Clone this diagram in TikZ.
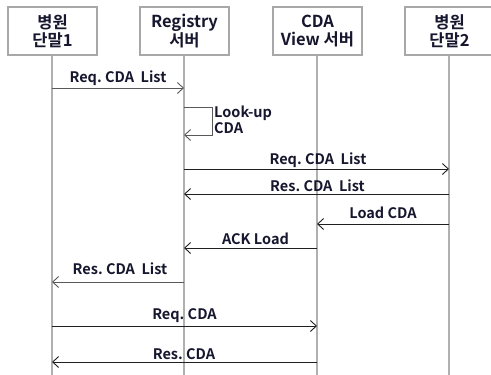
\documentclass[tikz,border=0pt]{standalone}
\usepackage{fontspec}
\setmainfont{Noto Sans CJK KR}[BoldFont={Noto Sans CJK KR Bold}]
\usetikzlibrary{arrows.meta}
\definecolor{boxgray}{HTML}{A8A8A8}
\definecolor{linegray}{HTML}{B0B0B0}
\definecolor{txt}{HTML}{16162E}
\definecolor{msgc}{HTML}{202020}
\begin{document}
\begin{tikzpicture}[x=1pt,y=-1pt,
  head/.style={draw=boxgray,line width=2pt,minimum width=89pt,minimum height=48pt,
    align=center,font=\fontsize{16.5}{18.5}\selectfont\bfseries,text=txt,inner sep=0pt},
  life/.style={draw=linegray,line width=2pt},
  msg/.style={draw=msgc,line width=0.9pt,-{Straight Barb[length=6pt,width=11pt,line width=0.9pt]}},
  lab/.style={font=\fontsize{14.5}{16}\selectfont\bfseries,text=txt,inner sep=0pt,anchor=base}]
\useasboundingbox (0,0) rectangle (491,375);
\fill[white] (0,0) rectangle (491,375);
\node[head] (h1) at (52.5,31) {병원\\단말1};
\node[head] (h2) at (184.5,31) {Registry\\서버};
\node[head] (h3) at (317.5,31) {CDA\\View 서버};
\node[head] (h4) at (449.5,31) {병원\\단말2};
\coordinate (e1) at (52,380);
\coordinate (e2) at (184,380);
\coordinate (e3) at (317,380);
\coordinate (e4) at (449,380);
\draw[life] (h1.south -| e1) -- (e1);
\draw[life] (h2.south -| e2) -- (e2);
\draw[life] (h3.south -| e3) -- (e3);
\draw[life] (h4.south -| e4) -- (e4);
% messages
\draw[msg,draw=black!65] (e1 |- 0,88) -- (e2 |- 0,88);
\node[lab] at (118,82) {Req.\ CDA\ \ List};
\coordinate (lp) at (212,107);
\draw[msg,draw=black!65] (e2 |- lp) -- (lp) -- (lp |- 0,135) -- (e2 |- 0,135);
\node[lab,anchor=base west] at (214,117.5) {Look-up};
\node[lab,anchor=base west] at (214,133.5) {CDA};
\draw[msg] (e2 |- 0,169) -- (e4 |- 0,169);
\node[lab] at (318,164) {Req.\ CDA\ \ List};
\draw[msg] (e4 |- 0,194) -- (e2 |- 0,194);
\node[lab] at (317.5,191) {Res.\ CDA\ \ List};
\draw[msg] (e4 |- 0,224) -- (e3 |- 0,224);
\node[lab] at (383,218.5) {Load CDA};
\draw[msg] (e3 |- 0,248) -- (e2 |- 0,248);
\node[lab] at (255.5,244.5) {ACK Load};
\draw[msg,draw=black!65] (e2 |- 0,282) -- (e1 |- 0,282);
\node[lab] at (120,274.5) {Res.\ CDA\ \ List};
\draw[msg] (e1 |- 0,326) -- (e3 |- 0,326);
\node[lab] at (184.5,319) {Req.\ CDA};
\draw[msg] (e3 |- 0,362) -- (e1 |- 0,362);
\node[lab] at (184,359) {Res.\ CDA};
\end{tikzpicture}
\end{document}
